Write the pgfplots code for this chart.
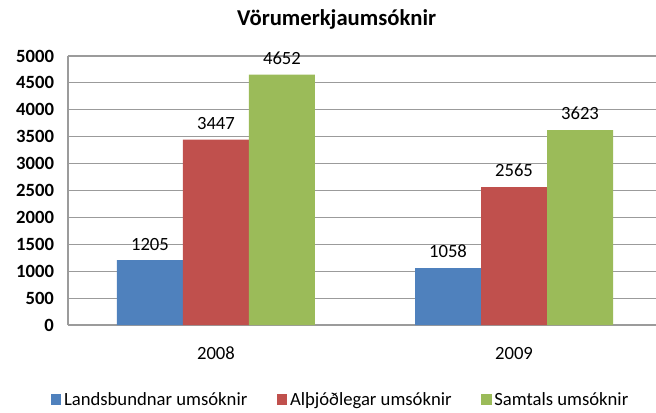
\documentclass[border=0pt]{standalone}
\usepackage{fontspec}
\setmainfont{Carlito}
\usepackage{pgfplots}
\pgfplotsset{compat=1.18}
\definecolor{sblue}{HTML}{4F81BD}
\definecolor{sred}{HTML}{C0504D}
\definecolor{sgreen}{HTML}{9BBB59}
\definecolor{gridgray}{RGB}{155,155,155}

\begin{document}
\begin{tikzpicture}
% page = 656x412 px at 0.75pt per px; plot area starts at px (68,325)
\path[use as bounding box] (-51pt,-65.25pt) rectangle (441pt,243.75pt);
\begin{axis}[
    scale only axis,
    width=441pt, height=201.75pt,
    ybar=0pt,
    bar width=49.5pt,
    xmin=-0.4966, xmax=1.4765,
    ymin=0, ymax=5000,
    ytick={0,500,...,5000},
    xtick={0,1},
    xticklabels={2008,2009},
    axis lines*=left,
    axis line style={draw=gridgray, line width=0.8pt, -},
    major tick length=0pt,
    ymajorgrids=true,
    grid style={draw=gridgray, line width=0.8pt},
    /pgf/number format/assume math mode=true,
    /pgf/number format/1000 sep={},
    yticklabel style={font=\fontsize{14}{16}\selectfont\bfseries, xshift=-7pt},
    xticklabel style={font=\fontsize{14}{16}\selectfont, yshift=-13pt},
    nodes near coords,
    nodes near coords style={font=\fontsize{14}{16}\selectfont, black, yshift=4pt},
    legend columns=3,
    legend style={draw=none, fill=none, at={(0.464,-0.279)}, anchor=center,
        font=\fontsize{14}{16}\selectfont,
        /tikz/every even column/.append style={column sep=20pt}},
    legend image code/.code={\fill[#1] (0pt,-3.5pt) rectangle (8pt,4.5pt);},
    clip=false,
]
\addplot[fill=sblue, draw=none] coordinates {(0,1205) (1,1058)};
\addplot[fill=sred, draw=none] coordinates {(0,3447) (1,2565)};
\addplot[fill=sgreen, draw=none] coordinates {(0,4652) (1,3623)};
\legend{Landsbundnar umsóknir, Alþjóðlegar umsóknir, Samtals umsóknir}
\node[font=\fontsize{17}{20}\selectfont\bfseries] at (rel axis cs:0.457,1.137) {Vörumerkjaumsóknir};
\end{axis}
\end{tikzpicture}
\end{document}
